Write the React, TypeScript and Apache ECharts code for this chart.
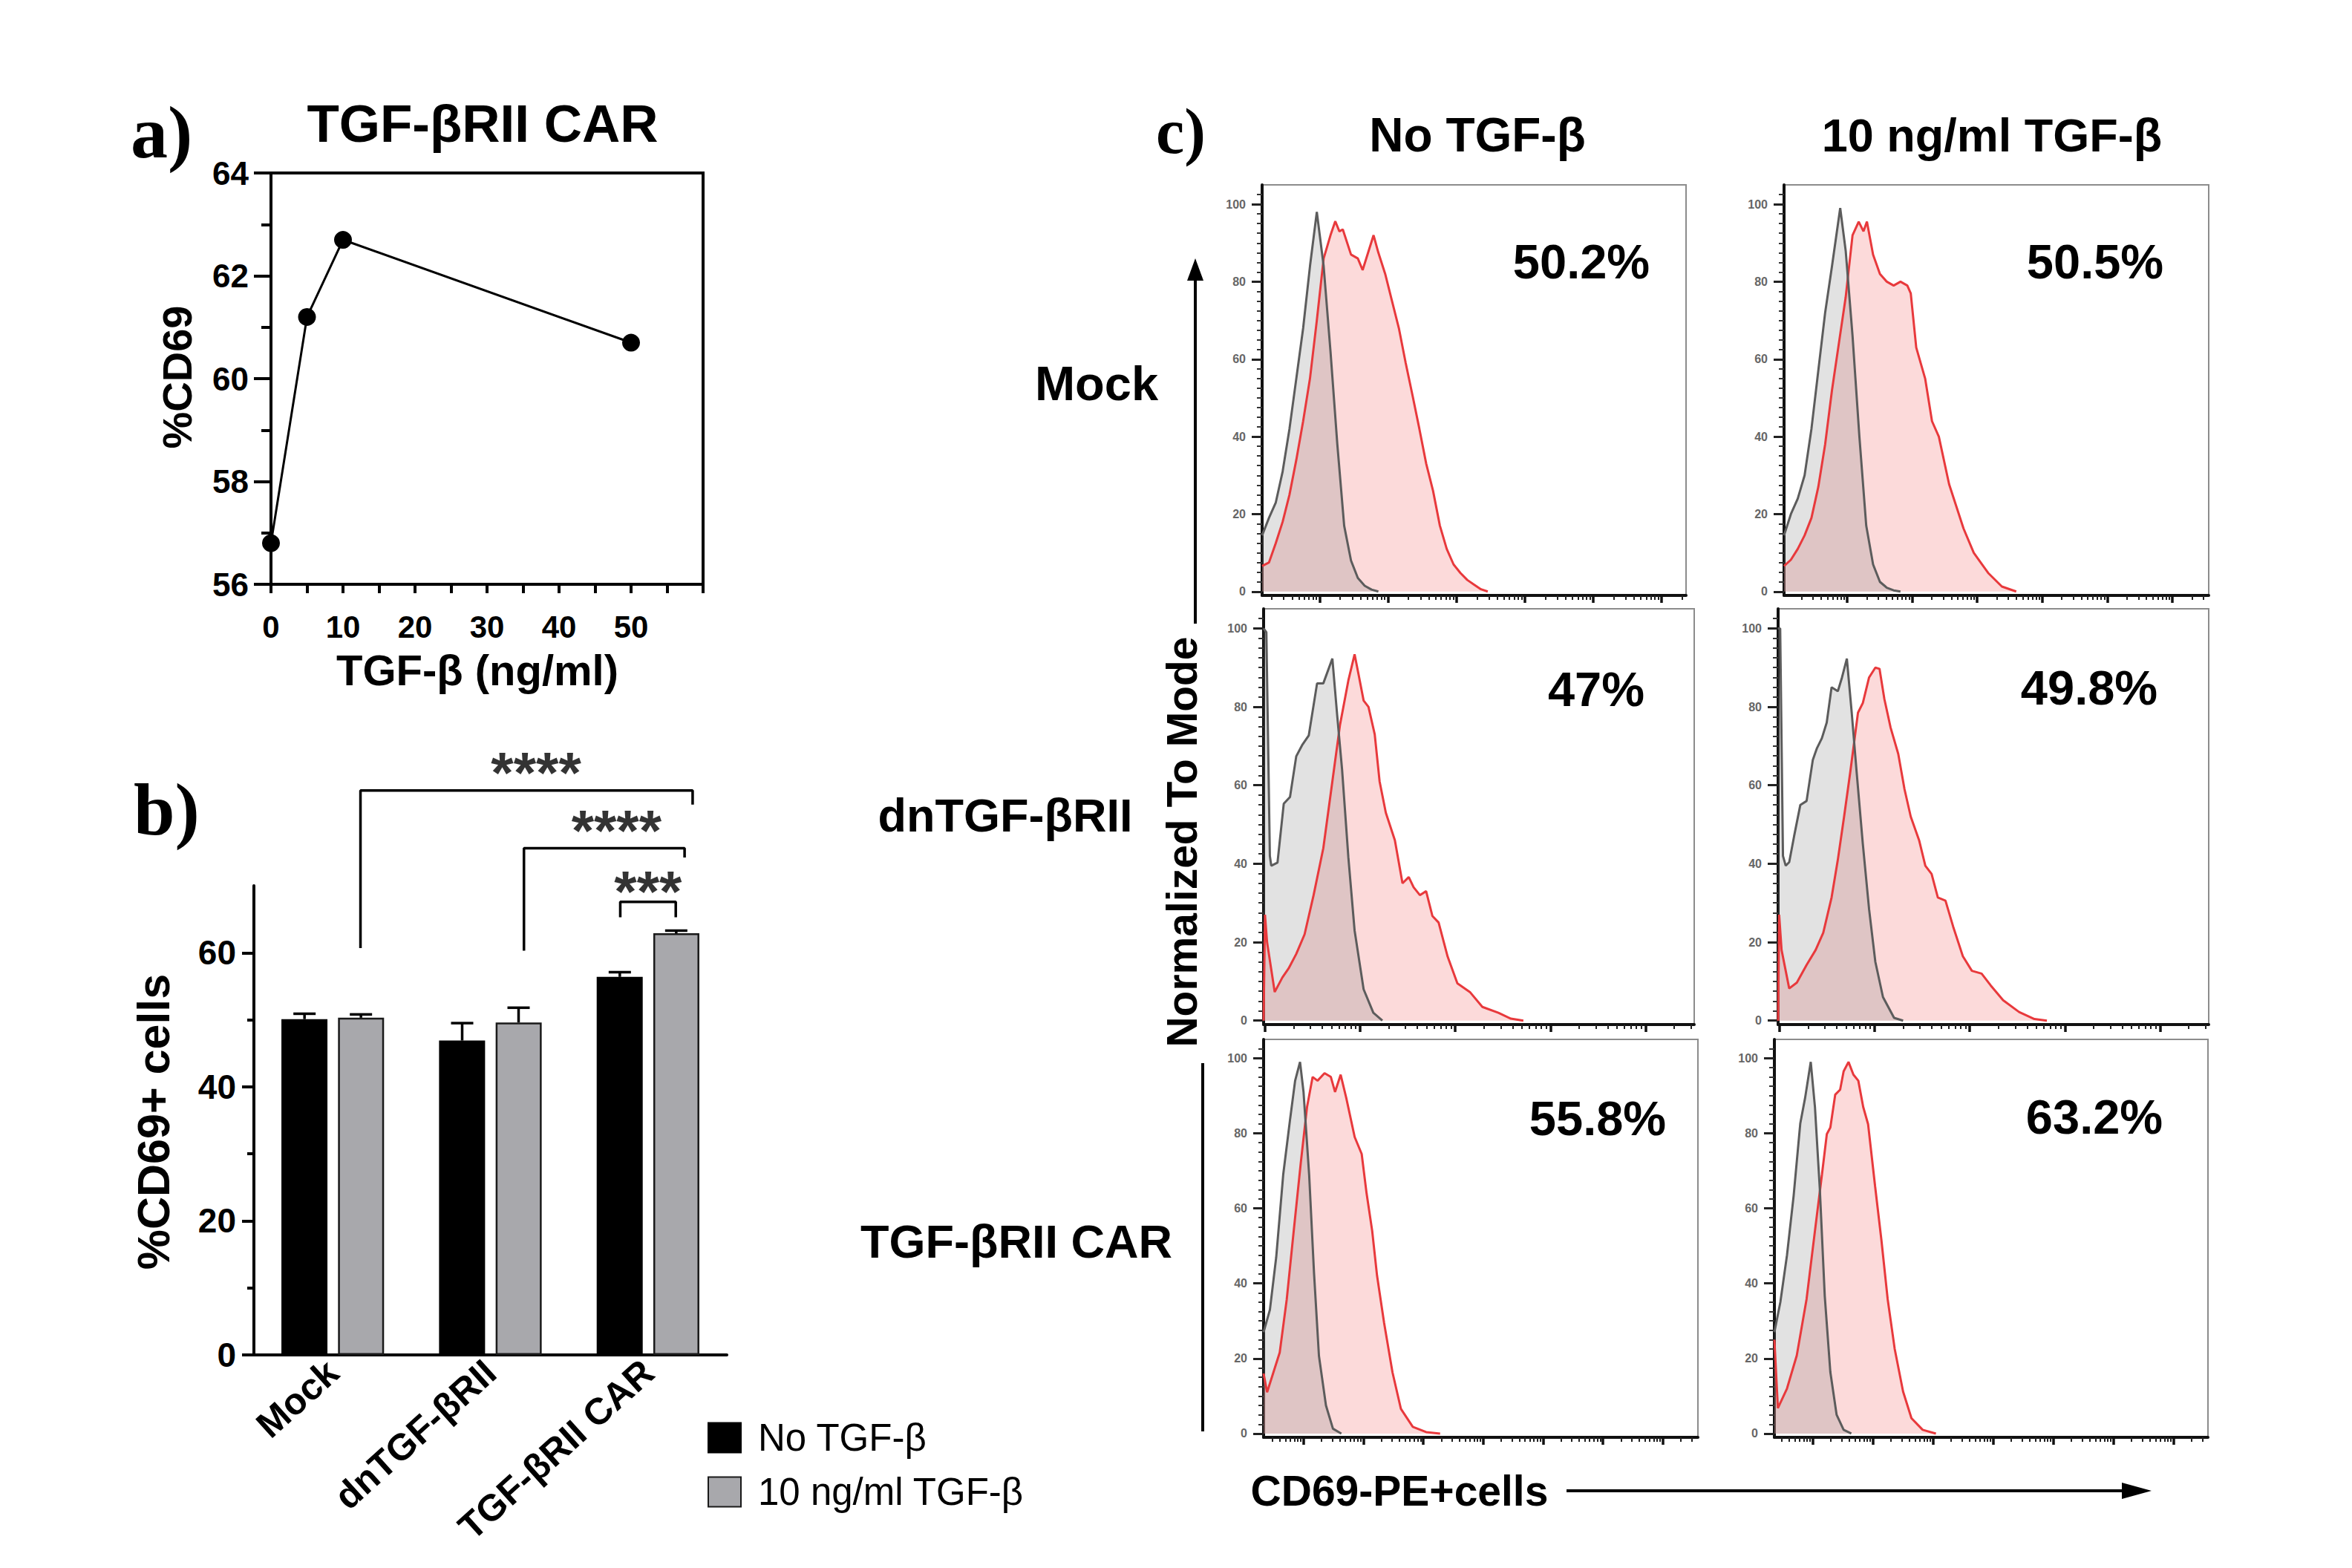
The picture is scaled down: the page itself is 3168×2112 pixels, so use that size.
import React, { useEffect, useRef } from 'react';
import * as echarts from 'echarts';

const W = 3168;
const H = 2112;
const NARROW = "'Liberation Sans Narrow', 'Arial Narrow', 'Liberation Sans', Arial, sans-serif";
const SANS = "'Liberation Sans', Arial, Helvetica, sans-serif";
const SERIF = "'Liberation Serif', 'Times New Roman', serif";

// ---------- Panel a ----------
const doseX = [0, 5, 10, 50];
const cd69Pct = [56.8, 61.2, 62.7, 60.7];

// ---------- Panel b ----------
const groups = ['Mock', 'dnTGF-βRII', 'TGF-βRII CAR'];
const seriesNames = ['No TGF-β', '10 ng/ml TGF-β'];
const noTgfMean = [50.1, 46.9, 56.4];
const noTgfErr = [0.8, 2.6, 0.7];
const tgfMean = [50.3, 49.6, 62.9];
const tgfErr = [0.5, 2.2, 0.4];
// significance brackets (x in group units, y in %)
const brLeftX = [0.176, 1.213, 1.824];
const brLeftY = [60.7, 60.3, 65.3];
const brTopY = [84.2, 75.6, 67.6];
const brRightX = [2.283, 2.232, 2.176];
const brRightY = [82.1, 74.2, 65.3];
const starText = ['****', '****', '***'];
const starX = [1.29, 1.8, 2.0];
const starY = [86.8, 78.2, 69.1];

// ---------- Panel c (histograms, x in display units 0..62, y = % of mode) ----------
const mockNoGray = [[0, 14.5], [1, 19], [2, 23], [3, 31], [4, 42], [5, 55], [6, 68], [7, 84], [8, 98], [9, 84], [10, 62], [11, 38], [12, 17], [13, 8], [14, 3.5], [15, 1.5], [16, 0.5], [17, 0]];
const mockNoRed = [[0, 6.6], [1, 7.5], [2, 12.5], [3, 18], [4, 25], [5, 34], [6, 44], [7, 55], [8, 70], [9, 86], [10, 92], [10.7, 95.6], [11.3, 93], [11.8, 93.5], [13, 87], [14, 86], [14.7, 83], [16.3, 92], [17, 87.5], [18, 82], [19, 75], [20, 68], [21, 59], [22, 50.6], [23, 42], [24, 33], [25, 26], [26, 17], [27, 11], [28, 7], [29, 4.8], [30, 3], [31, 1.8], [32, 0.6], [33, 0]];
const mockTgfGray = [[0, 14.5], [1, 20], [2, 24], [3, 30], [4, 42], [5, 57], [6, 72], [7, 84], [8.2, 99], [9, 88], [10, 66], [11, 40], [12, 17], [13, 7], [14, 2.5], [15, 1], [16, 0.3], [17, 0]];
const mockTgfRed = [[0, 6.6], [1, 8.2], [2, 11], [3, 14.5], [4, 19], [5, 27], [6, 38], [7, 52], [8, 64], [9, 76], [10, 92], [10.9, 95.5], [11.6, 93], [12.1, 95.5], [13, 87], [14, 82], [15, 80], [16, 79], [17, 80], [18, 79], [18.5, 77], [19.3, 63], [20.6, 55], [21.6, 44], [22.6, 40], [24.1, 27.7], [26.2, 16.3], [27.7, 10], [29.8, 4.8], [31.8, 1.3], [33.9, 0]];
const dnNoGray = [[0, 100], [0.4, 99], [0.9, 42], [1.1, 39.5], [2, 40.3], [2.9, 55.3], [3.8, 57], [4.7, 67.4], [5.6, 70.4], [6.5, 72.7], [7.7, 86], [8.6, 86], [9.9, 92.3], [10.6, 77.7], [11.3, 64], [12.2, 41.7], [13.1, 23], [14.4, 8], [15.8, 2], [17.1, 0]];
const dnNoRed = [[0, 0], [0.2, 27], [0.5, 20], [1.6, 7.3], [2.7, 11], [3.6, 13.3], [4.7, 17], [5.9, 22], [7.2, 32], [8.6, 44], [9.9, 61], [11, 75.4], [12.2, 86.7], [13.1, 93.4], [13.7, 88], [14.4, 81.6], [15.1, 80], [16, 73], [16.7, 61], [17.6, 53], [18.9, 46], [20, 35], [20.9, 36.6], [21.6, 34], [22.5, 32], [23.4, 33], [24.3, 26.7], [25.2, 25], [26.5, 16.3], [27.9, 9.5], [29.7, 7.3], [31.5, 3.5], [33.8, 2], [35.6, 0.5], [37.4, 0]];
const dnTgfGray = [[0, 100], [0.3, 100], [0.7, 42], [1.1, 39.5], [1.6, 40.4], [2.3, 47], [3.2, 55], [4.1, 56], [5, 66.5], [5.6, 69.5], [6.3, 72], [7, 76], [7.7, 85], [8.6, 84], [9.2, 87.5], [9.9, 92.3], [10.6, 78.5], [11.3, 63.5], [12.2, 45], [13.1, 28.4], [14, 15], [15.1, 6], [16.7, 0.7], [18, 0]];
const dnTgfRed = [[0, 0], [0.15, 27], [0.5, 18], [1.6, 8.2], [2.7, 9.7], [4.1, 14.2], [5.4, 18], [6.5, 22.4], [7.7, 31.4], [8.6, 41], [9.5, 52], [10.4, 63.5], [11.5, 78.5], [12.2, 81], [13.1, 87.5], [14, 90], [14.6, 89.7], [15.3, 82], [16.2, 74.7], [17.3, 68], [18.2, 59], [19.1, 52], [20.3, 46], [21.2, 39.5], [22.1, 37.4], [23, 31.4], [24.1, 30.6], [25.2, 24], [26.6, 16.4], [27.9, 12.7], [29.3, 12], [30.6, 9], [32.4, 5.2], [34.7, 2.2], [36.9, 0.4], [38.7, 0]];
const carNoGray = [[0, 27], [0.9, 33], [1.8, 47], [2.8, 69], [3.8, 84], [4.5, 94], [5.2, 99], [5.7, 91], [6.5, 69], [7.2, 42.7], [7.9, 20.7], [8.9, 7.5], [9.9, 1.3], [11.1, 0]];
const carNoRed = [[0, 16], [0.5, 11], [1.4, 16.3], [2.3, 21.6], [3.3, 35.7], [4.3, 54], [5.3, 72], [6.2, 87], [7, 95], [7.7, 94], [8.7, 96], [9.6, 95], [10.2, 91], [11, 95.6], [11.8, 89.4], [13, 79], [14, 74.5], [14.7, 64], [15.5, 54], [16.2, 42], [17.2, 29.5], [18.4, 16.3], [19.6, 6.6], [21.3, 1.8], [23.2, 0.4], [25.2, 0]];
const carTgfGray = [[0, 27], [0.85, 35], [1.8, 47.5], [2.75, 63.3], [3.7, 82.6], [4.4, 89.5], [5.2, 99], [5.8, 87], [6.5, 65], [7.2, 36.7], [8, 16.4], [8.9, 5], [9.9, 1], [11, 0]];
const carTgfRed = [[0, 25], [0.5, 6.8], [1.8, 12], [3.2, 20.8], [4.6, 35.8], [5.8, 54], [6.8, 69], [7.5, 79.8], [8, 81.5], [8.7, 90.3], [9.4, 91.6], [9.9, 96.5], [10.6, 99], [11.3, 95.6], [12, 94], [12.7, 87], [13.4, 82.4], [14.4, 65.9], [15.3, 51.6], [16.2, 35.8], [17.2, 22.6], [18.4, 11.2], [19.6, 4.1], [21.2, 1], [23.1, 0]];

const histGray = [mockNoGray, mockTgfGray, dnNoGray, dnTgfGray, carNoGray, carTgfGray];
const histRed = [mockNoRed, mockTgfRed, dnNoRed, dnTgfRed, carNoRed, carTgfRed];
const histPct = ['50.2%', '50.5%', '47%', '49.8%', '55.8%', '63.2%'];
const colTitles = ['No TGF-β', '10 ng/ml TGF-β'];
const rowTitles = ['Mock', 'dnTGF-βRII', 'TGF-βRII CAR'];
const histYTicks = [0, 20, 40, 60, 80, 100];

// layout (pixels) of the six histogram frames and their decade tick spacing
const histLayout = [
  { left: 1700, top: 249, width: 571, height: 553, first: 8.4, step: 10, pctX: 2130, pctY: 352 },
  { left: 2403, top: 249, width: 572, height: 553, first: 9.2, step: 9.5, pctX: 2822, pctY: 352 },
  { left: 1702, top: 820, width: 580, height: 560, first: 0.2, step: 13.7, pctX: 2150, pctY: 928 },
  { left: 2395, top: 820, width: 580, height: 560, first: 0.2, step: 13.7, pctX: 2814, pctY: 926 },
  { left: 1702, top: 1400, width: 585, height: 536, first: 5.7, step: 8.55, pctX: 2152, pctY: 1506 },
  { left: 2390, top: 1400, width: 584, height: 536, first: 5.5, step: 8.6, pctX: 2821, pctY: 1504 },
];

function majorTicks(first: number, step: number) {
  const r: number[] = [];
  for (let v = first; v < 61.8; v += step) r.push(+v.toFixed(2));
  return r;
}
function minorTicks(first: number, step: number) {
  const r: number[] = [];
  for (let base = first - step; base < 62; base += step) {
    for (let m = 2; m <= 9; m++) {
      const v = base + Math.log10(m) * step;
      if (v > 0.6 && v < 61.6) r.push(+v.toFixed(2));
    }
  }
  return r;
}
const yMinor: number[] = [];
for (let v = 2.5; v < 104; v += 2.5) if (v % 20 !== 0) yMinor.push(v);

function txt(text: string, x: number, y: number, size: number, o: any = {}) {
  const font = `${o.weight || 'bold'} ${size}px ${o.family || NARROW}`;
  return {
    type: 'text',
    x,
    y,
    rotation: o.rotation || 0,
    silent: true,
    style: {
      text,
      fill: '#000',
      font,
      textAlign: o.align || 'center',
      align: o.align || 'center',
      textVerticalAlign: o.vAlign || 'middle',
      verticalAlign: o.vAlign || 'middle',
    },
  };
}

function buildOption() {
  const grid: any[] = [];
  const xAxis: any[] = [];
  const yAxis: any[] = [];
  const series: any[] = [];

  const black = { color: '#000', width: 4 };

  // ----- Panel a -----
  grid.push({ left: 365, top: 233, width: 582, height: 554, show: true, borderColor: '#000', borderWidth: 4, backgroundColor: 'transparent', outerBoundsMode: 'none', containLabel: false });
  xAxis.push({
    gridIndex: 0, type: 'value', min: 0, max: 60, interval: 5,
    axisLine: { onZero: false, lineStyle: black },
    axisTick: { length: 12, lineStyle: black },
    axisLabel: {
      margin: 36, fontSize: 42, fontWeight: 'bold', fontFamily: SANS, color: '#000',
      formatter: (v: number) => (v % 10 === 0 && v <= 50 ? String(v) : ''),
    },
    splitLine: { show: false },
  });
  yAxis.push({
    gridIndex: 0, type: 'value', min: 56, max: 64, interval: 2,
    axisLine: { onZero: false, lineStyle: black },
    axisTick: { length: 23, lineStyle: black },
    minorTick: { show: true, splitNumber: 2, length: 13, lineStyle: black },
    axisLabel: { margin: 30, fontSize: 44, fontWeight: 'bold', fontFamily: SANS, color: '#000' },
    splitLine: { show: false },
  });
  series.push({
    type: 'line', xAxisIndex: 0, yAxisIndex: 0,
    data: doseX.map((x, i) => [x, cd69Pct[i]]),
    symbol: 'circle', symbolSize: 24, clip: false,
    lineStyle: { color: '#000', width: 3 },
    itemStyle: { color: '#000' },
  });

  // ----- Panel b -----
  grid.push({ left: 342, top: 1193, width: 637, height: 632, outerBoundsMode: 'none', containLabel: false });
  xAxis.push({
    gridIndex: 1, type: 'category', data: groups,
    axisLine: { onZero: false, lineStyle: black },
    axisTick: { alignWithLabel: true, length: 15, lineStyle: black },
    axisLabel: { rotate: 42, margin: 16, fontSize: 50, fontWeight: 'bold', fontFamily: NARROW, color: '#000', interval: 0 },
  });
  xAxis.push({ gridIndex: 1, type: 'value', min: -0.5, max: 2.5, show: false, axisLine: { onZero: false } });
  yAxis.push({
    gridIndex: 1, type: 'value', min: 0, max: 70,
    axisLine: { show: true, onZero: false, lineStyle: black },
    axisTick: { show: true, length: 16, lineStyle: black, customValues: [0, 20, 40, 60] },
    axisLabel: { margin: 24, fontSize: 46, fontWeight: 'bold', fontFamily: SANS, color: '#000', customValues: [0, 20, 40, 60] },
    splitLine: { show: false },
  });
  yAxis.push({
    gridIndex: 1, type: 'value', min: 0, max: 70, position: 'left',
    axisLine: { show: false, onZero: false },
    axisTick: { show: true, length: 9, lineStyle: black, customValues: [10, 30, 50] },
    axisLabel: { show: false },
    splitLine: { show: false },
  });
  const BAR_W = 62;
  const OFF = 38;
  series.push({
    type: 'bar', name: seriesNames[0], xAxisIndex: 1, yAxisIndex: 1, data: noTgfMean,
    barWidth: BAR_W, barGap: '23%', itemStyle: { color: '#000', borderColor: '#000', borderWidth: 2 }, z: 2,
  });
  series.push({
    type: 'bar', name: seriesNames[1], xAxisIndex: 1, yAxisIndex: 1, data: tgfMean,
    barWidth: BAR_W, itemStyle: { color: '#a8a8ac', borderColor: '#1a1a1a', borderWidth: 2.5 }, z: 2,
  });
  const errSeries = (means: number[], errs: number[], off: number) => ({
    type: 'custom', xAxisIndex: 1, yAxisIndex: 1, z: 3, silent: true,
    data: means.map((m, i) => [i, m, m + errs[i]]),
    renderItem: (params: any, api: any) => {
      const b = api.coord([api.value(0), api.value(1)]);
      const t = api.coord([api.value(0), api.value(2)]);
      const x = b[0] + off;
      return {
        type: 'group',
        children: [
          { type: 'line', shape: { x1: x, y1: b[1], x2: x, y2: t[1] }, style: { stroke: '#000', lineWidth: 3.5 } },
          { type: 'line', shape: { x1: x - 15, y1: t[1], x2: x + 15, y2: t[1] }, style: { stroke: '#000', lineWidth: 3.5 } },
        ],
      };
    },
  });
  series.push(errSeries(noTgfMean, noTgfErr, -OFF));
  series.push(errSeries(tgfMean, tgfErr, OFF));
  brLeftX.forEach((lx, i) => {
    series.push({
      type: 'line', xAxisIndex: 2, yAxisIndex: 1, clip: false, silent: true, symbol: 'none',
      data: [[lx, brLeftY[i]], [lx, brTopY[i]], [brRightX[i], brTopY[i]], [brRightX[i], brRightY[i]]],
      lineStyle: { color: '#000', width: 3.5 },
    });
  });
  series.push({
    type: 'scatter', xAxisIndex: 2, yAxisIndex: 1, clip: false, silent: true,
    symbolSize: 2, itemStyle: { color: 'rgba(0,0,0,0)' },
    data: starX.map((x, i) => [x, starY[i], starText[i]]),
    label: {
      show: true, position: 'inside', formatter: (p: any) => p.data[2],
      fontSize: 78, fontWeight: 'bold', fontFamily: SANS, color: '#000',
    },
    labelLayout: { hideOverlap: false },
  });

  // ----- Panel c histograms -----
  histLayout.forEach((L, i) => {
    const gi = grid.length;
    grid.push({ left: L.left, top: L.top, width: L.width, height: L.height, show: true, borderColor: '#8c8c8c', borderWidth: 2, backgroundColor: 'transparent', outerBoundsMode: 'none', containLabel: false });
    const xi = xAxis.length;
    xAxis.push({
      gridIndex: gi, type: 'value', min: 0, max: 62, position: 'bottom',
      axisLine: { onZero: false, lineStyle: { color: '#111', width: 4 } },
      axisTick: { show: true, length: 10, lineStyle: { color: '#111', width: 3.5 }, customValues: majorTicks(L.first, L.step) },
      axisLabel: { show: false },
      splitLine: { show: false },
    });
    xAxis.push({
      gridIndex: gi, type: 'value', min: 0, max: 62, position: 'bottom',
      axisLine: { show: false, onZero: false },
      axisTick: { show: true, length: 6, lineStyle: { color: '#222', width: 2 }, customValues: minorTicks(L.first, L.step) },
      axisLabel: { show: false },
      splitLine: { show: false },
    });
    const yi = yAxis.length;
    yAxis.push({
      gridIndex: gi, type: 'value', min: -1, max: 105, position: 'left',
      axisLine: { show: true, onZero: false, lineStyle: { color: '#111', width: 4 } },
      axisTick: { show: true, length: 14, lineStyle: { color: '#222', width: 3 }, customValues: histYTicks },
      axisLabel: { margin: 22, fontSize: 16, fontWeight: 'bold', fontFamily: SANS, color: '#666', customValues: histYTicks },
      splitLine: { show: false },
    });
    yAxis.push({
      gridIndex: gi, type: 'value', min: -1, max: 105, position: 'left',
      axisLine: { show: false, onZero: false },
      axisTick: { show: true, length: 7, lineStyle: { color: '#333', width: 2 }, customValues: yMinor },
      axisLabel: { show: false },
      splitLine: { show: false },
    });
    const common = { type: 'line', xAxisIndex: xi, yAxisIndex: yi, symbol: 'none', showSymbol: false, silent: true, clip: true };
    series.push({ ...common, data: histRed[i], z: 2, lineStyle: { width: 0 }, areaStyle: { color: 'rgba(246,150,150,0.5)' } });
    series.push({ ...common, data: histGray[i], z: 3, lineStyle: { width: 0 }, areaStyle: { color: 'rgba(130,130,130,0.33)' } });
    series.push({ ...common, data: histRed[i], z: 4, lineStyle: { color: '#e8393c', width: 3 } });
    series.push({ ...common, data: histGray[i], z: 5, lineStyle: { color: '#5c5c5c', width: 3 } });
  });

  // ----- Annotations -----
  const graphic: any[] = [
    txt('a)', 176, 178, 100, { family: SERIF, align: 'left' }),
    txt('b)', 180, 1090, 100, { family: SERIF, align: 'left' }),
    txt('c)', 1557, 177, 86, { family: SERIF, align: 'left' }),
    txt('TGF-βRII CAR', 650, 166, 71),
    txt('TGF-β (ng/ml)', 643, 902, 58),
    txt('%CD69', 238, 508, 56, { rotation: Math.PI / 2 }),
    txt('%CD69+ cells', 207, 1511, 61, { rotation: Math.PI / 2 }),
    txt(colTitles[0], 1990, 182, 64),
    txt(colTitles[1], 2683, 182, 63),
    txt(rowTitles[0], 1477, 516, 65),
    txt(rowTitles[1], 1354, 1098, 63),
    txt(rowTitles[2], 1369, 1672, 63),
    txt('Normalized To Mode', 1592, 1134, 57, { rotation: Math.PI / 2 }),
    txt('CD69-PE+cells', 1885, 2008, 57, { family: SANS }),
    { type: 'line', silent: true, shape: { x1: 1610, y1: 372, x2: 1610, y2: 840 }, style: { stroke: '#000', lineWidth: 4 } },
    { type: 'polygon', silent: true, shape: { points: [[1610, 348], [1599, 378], [1621, 378]] }, style: { fill: '#000' } },
    { type: 'line', silent: true, shape: { x1: 1620, y1: 1432, x2: 1620, y2: 1928 }, style: { stroke: '#000', lineWidth: 4 } },
    { type: 'line', silent: true, shape: { x1: 2110, y1: 2008, x2: 2870, y2: 2008 }, style: { stroke: '#000', lineWidth: 4 } },
    { type: 'polygon', silent: true, shape: { points: [[2898, 2008], [2858, 1997], [2858, 2019]] }, style: { fill: '#000' } },
  ];
  histLayout.forEach((L, i) => graphic.push(txt(histPct[i], L.pctX, L.pctY, 65)));

  return {
    animation: false,
    backgroundColor: '#fff',
    grid,
    xAxis,
    yAxis,
    series,
    graphic,
    legend: {
      data: seriesNames,
      orient: 'vertical',
      left: 948,
      top: 1906,
      itemWidth: 44,
      itemHeight: 40,
      itemGap: 22,
      icon: 'rect',
      selectedMode: false,
      textStyle: { fontSize: 51, fontFamily: NARROW, color: '#000', padding: [0, 0, 0, 18] },
    },
  };
}

export default function App() {
  const ref = useRef<HTMLDivElement>(null);
  useEffect(() => {
    document.body.style.margin = '0';
    const chart = echarts.init(ref.current as HTMLDivElement, null, { renderer: 'svg', width: W, height: H });
    chart.setOption(buildOption() as any);
    return () => chart.dispose();
  }, []);
  return <div ref={ref} style={{ width: W, height: H }} />;
}
